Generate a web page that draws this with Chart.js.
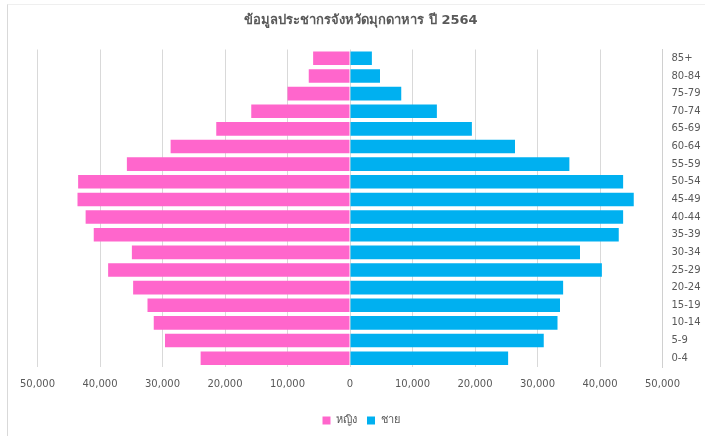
<!DOCTYPE html>
<html>
<head>
<meta charset="utf-8">
<script src="https://cdn.jsdelivr.net/npm/chart.js@4"></script>
<style>
  html, body { margin: 0; padding: 0; background: #ffffff; }
  #wrap { position: relative; width: 705px; height: 436px; overflow: hidden; }
  #frame { position: absolute; left: 7px; top: 4px; width: 720px; height: 460px;
           border-left: 1px solid #d9d9d9; border-top: 1px solid #efefef; }
  canvas { position: absolute; left: 0; top: 0; }
</style>
</head>
<body>
<div id="wrap">
  <div id="frame"></div>
  <canvas id="c" width="705" height="436"></canvas>
</div>
<script>
const titleText = 'ข้อมูลประชากรจังหวัดมุกดาหาร ปี 2564';
const ageGroups = ['85+', '80-84', '75-79', '70-74', '65-69', '60-64', '55-59', '50-54', '45-49',
                   '40-44', '35-39', '30-34', '25-29', '20-24', '15-19', '10-14', '5-9', '0-4'];
const femaleLabel = 'หญิง';
const maleLabel = 'ชาย';
const female = [5900, 6600, 10000, 15800, 21400, 28700, 35700, 43500, 43600,
                42300, 41000, 34900, 38700, 34700, 32400, 31400, 29600, 23900];
const male = [3500, 4800, 8200, 13900, 19500, 26400, 35100, 43700, 45400,
              43700, 43000, 36800, 40300, 34100, 33600, 33200, 31000, 25300];
const xTicks = [-50000, -40000, -30000, -20000, -10000, 0, 10000, 20000, 30000, 40000, 50000];

const femaleColor = '#FF66CC';
const maleColor = '#00B0F0';
const textColor = '#595959';
const baseFont = "'DejaVu Sans', Tahoma, sans-serif";

new Chart(document.getElementById('c'), {
  type: 'bar',
  data: {
    labels: ageGroups,
    datasets: [
      { label: femaleLabel, data: female.map(v => -v), backgroundColor: femaleColor,
        borderWidth: 0, barPercentage: 0.77, categoryPercentage: 1 },
      { label: maleLabel, data: male, backgroundColor: maleColor,
        borderWidth: 0, barPercentage: 0.77, categoryPercentage: 1 }
    ]
  },
  options: {
    indexAxis: 'y',
    responsive: false,
    animation: false,
    devicePixelRatio: 1,
    layout: { padding: { left: 17, right: 0, top: 0, bottom: 0 } },
    scales: {
      x: {
        stacked: true,
        min: -50000, max: 50000,
        afterBuildTicks: s => { s.ticks = xTicks.map(v => ({ value: v })); },
        afterFit: s => { s.paddingLeft = 37.5; s.height = 38; },
        grid: { color: '#d9d9d9', drawTicks: false, lineWidth: 1 },
        border: { display: false },
        ticks: {
          color: textColor, padding: 11, maxRotation: 0,
          font: { family: baseFont, size: 10 },
          callback: v => Math.abs(v).toLocaleString('en-US')
        }
      },
      y: {
        stacked: true,
        position: 'right',
        afterFit: s => { s.width = 42.5; },
        grid: { display: false, drawTicks: false },
        border: { display: true, color: '#d0d0d0' },
        ticks: { color: textColor, padding: 9, font: { family: baseFont, size: 10 } }
      }
    },
    plugins: {
      title: {
        display: true, text: titleText, color: textColor,
        font: { family: baseFont, size: 13, weight: 'bold' },
        padding: { top: 13, bottom: 20.9 }
      },
      legend: {
        position: 'bottom',
        labels: {
          color: textColor, boxWidth: 8, boxHeight: 8, padding: 10,
          font: { family: baseFont, size: 11 }
        }
      },
      tooltip: { enabled: false }
    }
  }
});
</script>
</body>
</html>
